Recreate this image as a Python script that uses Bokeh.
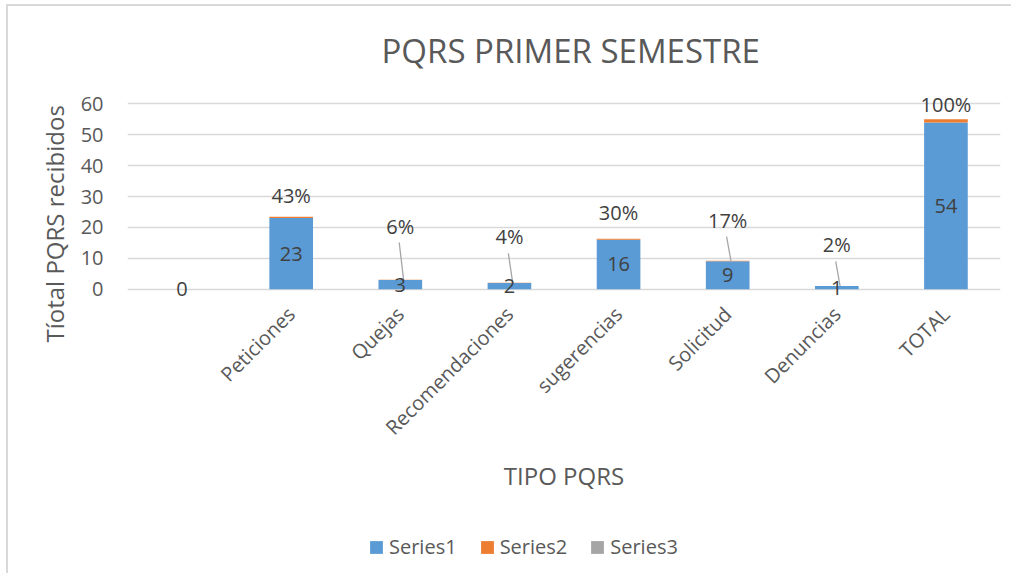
from math import pi
from bokeh.plotting import figure
from bokeh.layouts import column
from bokeh.models import (ColumnDataSource, FixedTicker, Legend, LegendItem, Range1d, Title)
from bokeh.core.properties import value
from bokeh.embed import file_html
from bokeh.resources import INLINE

categories = ["", "Peticiones", "Quejas", "Recomendaciones", "sugerencias", "Solicitud", "Denuncias", "TOTAL"]
series1 = [0, 23, 3, 2, 16, 9, 1, 54]
series2 = [0, 0.43, 0.06, 0.04, 0.30, 0.17, 0.02, 1.00]
series3 = [0, 0, 0, 0, 0, 0, 0, 0]
series_names = ["Series1", "Series2", "Series3"]
series1_labels = ["0", "23", "3", "2", "16", "9", "1", "54"]
series2_labels = ["", "43%", "6%", "4%", "30%", "17%", "2%", "100%"]
# label heights (in data units) as placed in the original chart
series2_label_y = [0, 30.2, 20.4, 16.9, 24.8, 22.3, 14.3, 59.7]
has_leader = [False, False, True, True, False, True, True, False]

FONT = "Open Sans"
TXT = "#595959"
LBL = "#404040"
COLORS = ["#5B9BD5", "#ED7D31", "#A5A5A5"]

x = list(range(len(categories)))
s2_top = [a + b for a, b in zip(series1, series2)]
s3_top = [a + b for a, b in zip(s2_top, series3)]

src = ColumnDataSource(dict(
    x=x, s1=series1, s2top=s2_top, s3top=s3_top, zero=[0] * len(x),
    s1mid=[v / 2 for v in series1], s1lab=series1_labels,
    s2lab=series2_labels, s2y=series2_label_y,
))

W = 1003
p = figure(frame_width=873, frame_height=210, output_backend="svg", toolbar_location=None,
           x_range=Range1d(-0.5, 7.5), y_range=Range1d(-4, 64),
           min_border_left=119, min_border_right=11, min_border_top=85, min_border_bottom=220)
p.outline_line_color = None
p.background_fill_color = "white"
p.border_fill_color = "white"

p.title.text = "PQRS PRIMER SEMESTRE"
p.title.align = "left"
p.title.offset = 254
p.title.text_font = FONT
p.title.text_font_size = "33px"
p.title.text_font_style = "normal"
p.title.text_color = TXT
p.title.standoff = 37

p.vbar(x="x", bottom="zero", top="s1", width=0.4, source=src, fill_color=COLORS[0], line_color=None)
p.vbar(x="x", bottom="s1", top="s2top", width=0.4, source=src, fill_color=COLORS[1], line_color=None)
p.vbar(x="x", bottom="s2top", top="s3top", width=0.4, source=src, fill_color=COLORS[2], line_color=None)

# leader lines for small bars
lx0, lx1, ly0, ly1 = [], [], [], []
for i in range(len(x)):
    if has_leader[i]:
        lx0.append(x[i] - 0.01)
        ly0.append(series2_label_y[i] - 5.3)
        lx1.append(x[i] + 0.03)
        ly1.append(s2_top[i])
p.segment(x0=lx0, y0=ly0, x1=lx1, y1=ly1, line_color="#A6A6A6", line_width=1.3)

p.text(x="x", y="s1mid", text="s1lab", source=src, text_align="center", text_baseline="middle",
       text_font=value(FONT), text_font_size="20px", text_color=LBL)
p.text(x="x", y="s2y", text="s2lab", source=src, text_align="center", text_baseline="middle",
       text_font=value(FONT), text_font_size="20px", text_color=LBL)

# axes
p.xgrid.grid_line_color = None
p.ygrid.grid_line_color = "#D9D9D9"
p.ygrid.grid_line_width = 1.5
p.yaxis.ticker = FixedTicker(ticks=[0, 10, 20, 30, 40, 50, 60])
p.xaxis.ticker = FixedTicker(ticks=x)
p.xaxis.major_label_overrides = {i: c for i, c in zip(x, categories)}
for ax in (p.xaxis[0], p.yaxis[0]):
    ax.axis_line_color = None
    ax.major_tick_line_color = None
    ax.minor_tick_line_color = None
    ax.major_label_text_font = FONT
    ax.major_label_text_font_size = "20px"
    ax.major_label_text_color = TXT
    ax.axis_label_text_font = FONT
    ax.axis_label_text_font_size = "24px"
    ax.axis_label_text_font_style = "normal"
    ax.axis_label_text_color = TXT
p.yaxis.major_label_standoff = 18
p.add_layout(Title(text="Tíotal PQRS recibidos", align="left", offset=-41,
                   text_font=FONT, text_font_size="24px", text_font_style="normal",
                   text_color=TXT, standoff=13), "left")
p.xaxis.axis_label = "TIPO PQRS"
p.xaxis.major_label_orientation = pi / 4
p.xaxis.major_label_standoff = 3
p.xaxis.axis_label_standoff = 6

# legend strip below the chart (zero-height proxy bars carry the legend swatches)
pl = figure(width=W, height=52, output_backend="svg", toolbar_location=None,
            x_range=Range1d(0, 1), y_range=Range1d(0, 1), min_border=0)
pl.axis.visible = False
pl.grid.visible = False
pl.outline_line_color = None
items = []
for name, col in zip(series_names, COLORS):
    r = pl.vbar(x=[0.5], top=[0], bottom=[0], width=0.1, fill_color=col, line_color=None)
    items.append(LegendItem(label=name, renderers=[r]))
legend = Legend(items=items, orientation="horizontal", location=(241, 13),
                label_text_font=FONT, label_text_font_size="20px", label_text_color=TXT,
                glyph_width=16, glyph_height=16, label_standoff=5, spacing=22,
                border_line_color=None, background_fill_alpha=0, margin=0, padding=0)
pl.add_layout(legend, "center")

layout = column(p, pl, spacing=0)
layout.styles = {"border-left": "2px solid #D9D9D9", "border-top": "2px solid #D9D9D9",
                 "margin-left": "6px", "margin-top": "4px"}

open("out.html", "w").write(file_html(layout, INLINE))
